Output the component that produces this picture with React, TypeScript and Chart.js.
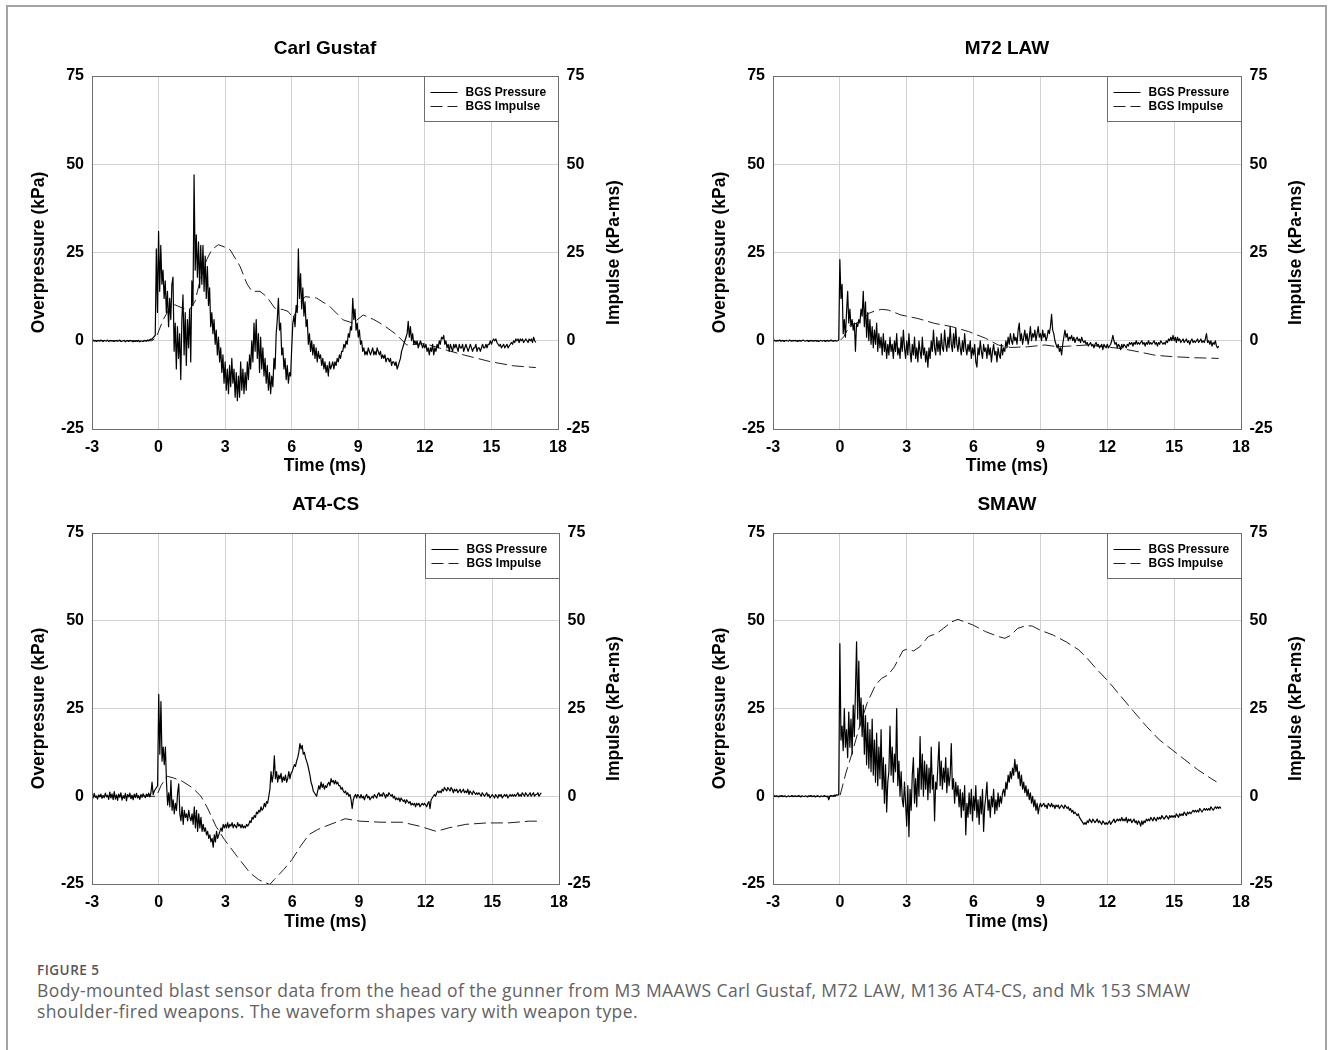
import React, { useEffect, useRef } from "react";
import { Chart, registerables } from "chart.js";

Chart.register(...registerables);

const FONT = '"Liberation Sans", Arial, Helvetica, sans-serif';
Chart.defaults.font.family = FONT;

// ---------- axes / labels ----------
const X_TICKS = [-3, 0, 3, 6, 9, 12, 15, 18];
const Y_TICKS = [-25, 0, 25, 50, 75];
const X_MIN = -3;
const X_MAX = 18;
const Y_MIN = -25;
const Y_MAX = 75;
const SERIES_LABELS = ["BGS Pressure", "BGS Impulse"];
const PANEL_TITLES = ["Carl Gustaf", "M72 LAW", "AT4-CS", "SMAW"];
const X_TITLE = "Time (ms)";
const Y_LEFT_TITLE = "Overpressure (kPa)";
const Y_RIGHT_TITLE = "Impulse (kPa-ms)";

// pressure rows: row r starts at ROW_START + r ms, samples every SAMPLE_STEP ms
const ROW_START = -3;
const SAMPLE_STEP = 0.05;

// ---------- Carl Gustaf ----------
const carlGustafPressure: number[][] = [
  [0, 0.2, -0.1, 0.1, -0.2, 0, 0.1, -0.1, 0.2, 0, -0.2, 0.1, 0, -0.1, 0.2, -0.2, 0, 0.1, -0.1, 0],
  [-0.2, 0, 0.1, -0.1, 0, 0.2, -0.2, -0.1, 0, 0.1, -0.3, 0, 0.1, -0.2, 0, 0.1, -0.1, -0.3, 0, -0.2],
  [0, -0.2, 0.1, -0.3, 0, -0.1, -0.2, 0.1, 0, -0.1, 0.2, 0, 0.3, 0.5, 0.4, 0.8, 1.2, 1.5, 26, 8],
  [31, 14, 27, 16, 20, 12, 17, 8, 14, 4, 12, 6, 16, 18, -3, 5, -8, 4, -5, 2],
  [-11, 6, 13, -4, 8, -7, 6, -2, 9, -6, 17, 10, 47, 20, 30, 18, 28, 15, 27, 16],
  [27, 14, 24, 12, 21, 10, 15, 4, 8, 2, 6, -1, 3, -4, 1, -6, -2, -9, -4, -12],
  [-6, -14, -8, -15, -7, -13, -5, -12, -8, -16, -9, -17, -10, -16, -6, -14, -8, -15, -9, -14],
  [-6, -11, -4, -8, 0, -6, 5, -3, 6, -5, 2, -9, 1, -8, -2, -10, -5, -12, -7, -14],
  [-9, -15, -10, -13, -5, -8, 2, 6, 12, 3, 5, -4, -2, -8, -5, -11, -7, -12, -9, -10],
  [-2, 5, 7, 4, 10, 8, 26, 12, 19, 9, 15, 7, 11, 4, 6, -1, 2, -3, 0, -4],
  [-1, -5, -2, -6, -3, -5, -4, -7, -5, -8, -6, -9, -7, -10, -6, -8, -7, -6, -8, -6],
  [-7, -5, -6, -4, -5, -3, -3, -1, -2, 0, -1, 2, 1, 4, 3, 12, 6, 9, 3, 5],
  [1, 3, -1, 0, -3, -2, -4, -3, -4, -2, -3, -4, -3, -2, -4, -3, -4, -2, -3, -4],
  [-3, -5, -4, -5, -4, -6, -5, -5, -6, -5, -7, -6, -6, -7, -6, -8, -7, -6, -5, -3],
  [-2, -1, 0, 1, 2, 5.5, 1, 4, 0, 2, -1, 0, -1, 0, -2, -1, 0, -1, -2, -1],
  [-2, -1, -3, -2, -4, -2, -3, -1, -4, -2, -3, -1, -2, 0, -1, 1, 0.5, 1.5, -1, 0],
  [-2, -1, -3, -1, -2, -3, -1, -2, -1, -2, -3, -1, -2, -2, -1, -3, -2, -1, -2, -3],
  [-2, -1, -2, -3, -2, -2, -1, -3, -2, -2, -3, -2, -1, -2, -2, -1, -2, -1, -1, 0],
  [-1, 0, 0.5, 0, 0.5, -0.5, -1, -1.5, -1, -2, -1.5, -1, -2, -1.5, -1, -2, -1.5, -1, -0.5, -1],
  [0, -0.5, 0.5, 0, 0.5, -0.5, 0.5, 0, 0.5, -0.5, 0, 0.5, 0, -0.5, 0.5, 0, 0.5, -0.5, 1, 0],
  [-0.5],
];
const carlGustafImpulse: number[][] = [
  [-3, 0], [-0.3, 0], [-0.1, 1], [0.2, 5.9], [0.5, 9.2], [0.73, 10.2], [1.1, 9.2], [1.4, 8.8],
  [1.64, 11.1], [1.86, 16.8], [2.17, 23], [2.4, 25.8], [2.69, 27.2], [3.0, 26.5], [3.22, 25.8],
  [3.67, 21.1], [3.97, 16.3], [4.2, 14], [4.57, 14], [4.87, 12.5], [5.24, 9.2], [5.62, 8.8],
  [5.84, 8.3], [6.07, 6.4], [6.3, 10], [6.6, 12.5], [7.12, 12.1], [7.72, 9.7], [8.32, 5.9],
  [8.77, 5], [9.22, 7.3], [9.7, 6], [10.12, 4.5], [10.73, 1.7], [11.18, -1.2], [12, -0.8],
  [13, -2.7], [13.8, -4.1], [15, -6], [16, -7.1], [17, -7.6],
];

// ---------- M72 LAW ----------
const m72LawPressure: number[][] = [
  [0, 0.2, 0, -0.1, 0.1, 0, 0.2, -0.1, 0, 0.1, -0.2, 0, 0.1, 0, -0.1, 0.2, 0, -0.1, 0.1, 0],
  [0.1, 0, -0.2, 0, 0.1, -0.1, 0, 0.2, 0, -0.1, 0, 0.1, -0.2, 0, 0.1, 0, -0.1, 0, 0.1, -0.1],
  [0, -0.2, 0, 0.1, -0.1, 0, 0.1, -0.2, 0, 0.1, -0.1, 0, 0.2, 0, -0.1, 0, 0.1, -0.1, 0, 0.2],
  [23, 12, 16, 2, 6, 1, 8, 14, 5, 9, 4, 6, 3, 5, -3, 5, 4, 6, 5, 9],
  [7, 14, 4, 11, 1, 8, 0, 6, -1, 4, -2, 3, -1, 5, -3, 2, -2, 1, -4, 2],
  [-3, 0, -5, -1, -4, 1, -3, -1, -5, 0, -3, 2, -4, -2, -5, 1, -3, 3, -2, -5],
  [0, -4, 2, -3, -6, -1, -4, 1, -5, -2, -6, 0, -3, -5, 1, -4, -2, -6, -3, -7.5],
  [-2, -5, 0, -3, 3, -2, -4, 1, -3, 0, -4, 2, -2, -3, 3, -1, -3, 1, -2, 4],
  [-1, -3, 2, -2, 3.5, -1, -3, 1, -2, -4, 0, -3, 2, -2, -4, -1, -3, 0, -5, -2],
  [-4, -1, -6, -7.5, -2, -4, 0, -3, -5, -1, -3, -2, -5, -1, -4, -2, -6, -3, -1, -4],
  [-3, -6, -2, -4, -5, -1, -4, -2, -3, 0, -2, 1, -1, 2, 0, -1, 2, 0, 1, -1],
  [3, 5, 0, 2, -1, 1, 3, 0, 2, -1, 1, 4, 0, 2, 1, 3, 0, 2, 4, 1],
  [2, 0, 3, 1, 2, 0, 1, 3, 2, 4, 7.5, 3, 2, 0, -1, -2, -1, -3, -2, -4],
  [-1, 1, 3, 1, 2, 0, 1, 0.5, 1.5, 0, 1, -0.5, 0.5, 1, 0, 0.5, -0.5, 1, 0, -0.5],
  [0, -1, -0.5, -1.5, -1, -0.5, -1.5, -1, -2, -1, -0.5, -1.5, -1, -2, -1.5, -1, -2.5, -1, -1.5, -2],
  [-1, -2, -1.5, -1, 0, 1.5, 0, -1, -0.5, -2, -1, -1.5, -2.5, -1, -2, -1, -1.5, -2, -1, -1.5],
  [-0.5, -1, -0.5, -1.5, -0.5, -1, 0, -1, -0.5, -1, -0.5, 0, -1, -0.5, -1.5, -0.5, -1, 0, -1, -0.5],
  [-1, -0.5, 0, -1, -0.5, -1.5, -0.5, -1, 0, -0.5, -1, -0.5, -1, 0, -0.5, 0.5, 0, 1, 0, 1.5],
  [0, 1, -0.5, 1, 0, 0.5, -0.5, 0, 0.5, -0.5, 0, 0.5, -0.5, 0, -1, 0, 0.5, -0.5, 0, -0.5],
  [0, 0.5, -0.5, 0, 0.5, -0.5, 0, -0.5, 0.5, 2, -0.5, 0, -1, 0, -1.5, -0.5, -1, 0, -1.5, -2],
  [-1.5],
];
const m72LawImpulse: number[][] = [
  [-3, 0], [0, 0], [0.17, 1.1], [0.46, 4.5], [0.74, 4.9], [1.03, 6.3], [1.31, 7.8], [1.6, 8.5],
  [1.88, 8.9], [2.17, 8.7], [2.74, 7.3], [3.5, 6.3], [4.26, 4.9], [5.02, 4.0], [5.78, 2.6],
  [6.54, 0.7], [7.1, -1.2], [7.68, -1.9], [8.44, -1.7], [9.2, -1.2], [9.77, -1.7], [10.34, -1.5],
  [11.1, -1.2], [11.86, -1.7], [12.62, -2.2], [13.38, -3.1], [14.14, -4.1], [14.9, -4.5],
  [15.86, -4.8], [17, -5],
];

// ---------- AT4-CS ----------
const at4csPressure: number[][] = [
  [0.5, -0.5, 0.8, -0.3, 0, -0.8, 0.4, -0.2, 0.6, -0.6, 0.2, -0.4, 0.9, -0.2, 0.3, -0.9, 1.2, -0.5, 0.7, -1],
  [1.3, -0.8, 0.4, -1.2, 0.6, -0.3, 1, -1.1, 0.2, -0.6, 0.8, -1.3, 0.5, -0.2, 0.9, -0.7, 0.3, -1, 0.6, -0.4],
  [0.8, -0.5, 0.2, -0.9, 0.5, -0.3, 0.7, 0.1, -0.4, 0.6, 0, 0.9, -0.2, 1, 4, 0.5, 1.5, 2, 2.5, 3],
  [29, 12, 27, 10, 14, 9, 14, 4, -2.5, 1, -3, 4.5, -4, -1, -5, -2, -4, 1, 3.5, -5],
  [-7, -3, -8, -4, -6, -5, -7, -4, -6, -7, -5, -8, -3, -9, -4, -10, -5, -9, -6, -10],
  [-8, -10, -9, -11, -10, -12, -11, -13, -12, -14.5, -11, -13, -10, -12, -11, -10, -9, -10, -8, -9],
  [-8, -9, -7.5, -9, -8, -8.5, -7.5, -9, -8, -8.5, -9, -7.5, -8.5, -8, -9, -8, -9, -8.5, -9, -8],
  [-8.5, -8, -7, -7.5, -6, -6.5, -5.5, -6, -4.5, -5, -4, -4.5, -3, -4, -3.5, -2, -3, -1.5, -2, 0],
  [2, 7, 4, 6, 11.5, 5, 7, 4, 6, 5, 6.5, 4, 5.5, 4.5, 6, 4, 5, 7, 5, 6.5],
  [7, 8, 9, 8.5, 10, 11, 12.5, 15, 13.5, 14.5, 12, 12.5, 11, 10, 9, 7.5, 6, 4, 3, 1.5],
  [1, 0.5, 0, 1.5, 3, 2, 4, 2.5, 3.5, 2, 3, 2.5, 3.5, 4, 3, 5, 4, 4.5, 3.5, 4.5],
  [3.5, 4, 3, 3, 2, 2.5, 1.5, 1, 1.5, 0.5, 1, 0, 0.5, -1, -3.5, -1, 0, 0.5, -0.5, 0.5],
  [0, -0.5, 0.5, -0.5, 0, -1, 0, 0.5, -0.5, 0, -1, -0.5, 0, -0.5, 0.5, 0, -0.5, 0.5, 1, 0],
  [0.5, 0, 1, 0.5, -0.5, 0.5, 0, 1, 0.5, 0, 0.5, -0.5, 0, -1, -0.5, -1, -0.5, -1.5, -0.5, -1],
  [-1.5, -1, -2, -1, -1.5, -2, -1.5, -2.5, -2, -2.5, -2, -3, -2, -2.5, -2, -3, -2.5, -2, -2.5, -2],
  [-2.5, -3, -2, -1.5, -3.5, -1, -0.5, 0, 0.5, 0, 1, 1.5, 1, 1.5, 1, 2, 1.5, 2.5, 2, 1.5],
  [2.5, 2, 1.5, 2.5, 2, 1, 2, 1.5, 2, 1, 1.5, 2, 1, 1.5, 2, 1, 1.5, 1, 2, 0.5],
  [1.5, 1, 0.5, 1.5, 1, 0.5, 1, 0.5, 1, 0.5, 0, 1, 0.5, 0, 0.5, 1, 0, 0.5, -0.5, 0],
  [0.5, 0, -0.5, 0.5, 0, -0.5, 0.5, 0, 0.5, -0.5, 0, 0.5, 0, 0.5, -0.5, 0, 0.5, 0, 0.5, 0],
  [0.5, 0, 0.5, 1, 0, 0.5, 0, 1, 0.5, 0, 1, 0.5, 0, 0.5, 1, 0, 0.5, 1, 0, 0.5],
  [0.5, 1, 0, 0.5, 1],
];
const at4csImpulse: number[][] = [
  [-3, 0], [-0.1, 0], [0.1, 3], [0.38, 5.7], [0.67, 5.2], [1.05, 4.3], [1.52, 2.4], [1.9, 0],
  [2.19, -3.3], [2.57, -8.5], [2.95, -12.3], [3.52, -17.1], [4.1, -21.8], [4.48, -23.7],
  [4.76, -24.6], [5.0, -25.1], [5.2, -23.7], [5.62, -20.9], [6.0, -18], [6.38, -14.2],
  [6.76, -10.9], [7.14, -9.5], [7.52, -8.5], [8.1, -7.1], [8.38, -6.4], [9.05, -7.1], [10, -7.4],
  [10.95, -7.4], [11.71, -8.5], [12.48, -10], [13.05, -9], [13.81, -8], [14.76, -7.6],
  [15.7, -7.6], [16.67, -7.1], [17.24, -7.1],
];

// ---------- SMAW ----------
const smawPressure: number[][] = [
  [0, 0.2, -0.1, 0.1, 0, -0.2, 0.1, 0, 0.2, -0.1, 0, 0.1, -0.2, 0, 0.1, -0.1, 0, 0.2, -0.1, 0],
  [0.1, -0.1, 0, 0.2, 0, -0.2, 0.1, 0, -0.1, 0.1, 0, -0.2, 0.1, 0, 0.2, -0.1, 0, 0.1, -0.2, 0],
  [0.1, 0, -0.2, 0.1, 0, -0.1, 0.2, 0, -0.1, 0, -1, 0, 0.2, 0.1, 0, 0.3, 0.2, 0.4, 0.3, 0.5],
  [43.5, 16, 20, 13, 25, 14, 19, 11, 24, 14, 22, 12, 26, 17, 30, 44, 22, 38.5, 20, 28],
  [17, 26, 12, 23, 9, 21, 8, 19, 7, 22, 6, 16, 4, 18, 3, 14, 5, 19, 2, 11],
  [-2, 9, -4.5, 4, 7, 20, 6, 14, 4, 12, 7, 25, 3, 10, 0, 7, -1, -3, 4, -2],
  [-8.5, 3, -11.5, 2, -4, 6, 11, -2, 5, -3, 8, 0, 17, 2, 12, 0, 10, 2, 9, -1],
  [8, 1, 14, 2, 6, -7, 4, 2, 9, 15.5, 3, 10, 2, 8, 4, 11, 1, 8, 3, 6],
  [15, 2, 5, -2, 4, 0, 3, -3, 2, -6, 1, -4, 3, -11, -2, -6, 1, -5, 2, -7],
  [0, -4, 3, -6, -1, -8, 0, -5, 2, -10, -3, 0, 4, -4, -1, -6, 0, -3, 2, -5],
  [-1, -4, 1, -3, 0, -2, 1, 2, 0, 4, 2, 6, 4, 7, 5, 8, 6, 10.5, 7, 9],
  [5, 7, 3, 6, 2, 4, 1, 3, 0, 2, -1, 1, -2, 0, -3, -1, -4, -2, -5, -3],
  [-2, -3, -2.5, -2, -3, -2.5, -3.5, -2, -2.5, -3, -2, -3, -2.5, -3.5, -2.5, -3, -2.5, -3.5, -3, -2.5],
  [-3, -3.5, -2.5, -3, -3.5, -3, -4, -3.5, -4.5, -4, -5, -4.5, -5, -5.5, -5, -6, -6.5, -7, -7.5, -8],
  [-7.5, -8, -7, -7.5, -6.5, -7, -7.5, -6.5, -7, -7.5, -7, -6.5, -7.5, -7, -7.5, -8, -7, -7.5, -8, -7.5],
  [-8, -7.5, -7, -8, -7.5, -7, -6.5, -7.5, -7, -6.5, -7, -6.5, -7, -6, -7, -6.5, -7, -6, -7.5, -6.5],
  [-7, -6.5, -7.5, -7, -6.5, -7.5, -7, -8, -7, -7.5, -8.5, -7, -8, -7, -7.5, -6.5, -7, -6.5, -7, -6],
  [-6.5, -7, -6, -6.5, -7, -6, -6.5, -6, -6.5, -5.5, -6, -6.5, -6, -5.5, -6, -6.5, -5.5, -6, -5.5, -6],
  [-5.5, -6, -5, -5.5, -6, -5, -5.5, -5, -5.5, -4.5, -5, -5.5, -4.5, -5, -4.5, -5, -4.5, -4, -4.5, -4],
  [-4.5, -4, -4.5, -3.5, -4, -4.5, -4, -3.5, -4, -3.5, -4, -3.5, -4, -3, -3.5, -4, -3.5, -3, -3.5, -3],
  [-3.5, -3, -3.5],
];
const smawImpulse: number[][] = [
  [-3, 0], [0, 0], [0.27, 6.6], [0.55, 12.3], [0.84, 18.9], [1.22, 26.5], [1.6, 31.7], [1.88, 33.6],
  [2.17, 34.6], [2.45, 36.9], [2.83, 41.5], [3.02, 41.9], [3.31, 41.4], [3.59, 42.6], [3.97, 45.5],
  [4.35, 46.4], [4.64, 47.8], [5.02, 49.7], [5.3, 50.4], [5.59, 49.7], [5.97, 48.8], [6.54, 46.9],
  [7.11, 45.5], [7.4, 45], [7.68, 45.9], [7.97, 47.8], [8.35, 48.6], [8.63, 48.5], [9.0, 47.3],
  [9.58, 45.9], [10.15, 44], [10.72, 41.7], [11.1, 39.3], [11.48, 36.5], [12.05, 32.7],
  [12.62, 28.4], [13.19, 24.1], [13.76, 19.9], [14.33, 16.1], [14.9, 13.3], [15.48, 10.4],
  [16.05, 7.6], [16.62, 5.2], [16.9, 4.1],
];

// ---------- helpers ----------
function rowsToPoints(rows: number[][]) {
  const pts: { x: number; y: number }[] = [];
  rows.forEach((row, r) => {
    row.forEach((v, j) => {
      pts.push({ x: Math.round((ROW_START + r + j * SAMPLE_STEP) * 100) / 100, y: v });
    });
  });
  return pts;
}
function pairsToPoints(pairs: number[][]) {
  return pairs.map(([x, y]) => ({ x, y }));
}

function alignPx(p: number) {
  return Math.round(p - 0.5) + 0.5;
}

const framePlugin = {
  id: "frame",
  afterDatasetsDraw(chart: any) {
    const { ctx, chartArea: a } = chart;
    const l = alignPx(a.left), r = alignPx(a.right), t = alignPx(a.top), b = alignPx(a.bottom);
    ctx.save();
    ctx.strokeStyle = "#6e6e6e";
    ctx.lineWidth = 1;
    ctx.strokeRect(l, t, r - l, b - t);
    ctx.restore();
  },
};

const rightTitlePlugin = {
  id: "rightTitle",
  afterDraw(chart: any, _args: any, o: any) {
    const { ctx, chartArea: a } = chart;
    ctx.save();
    ctx.translate(o.x, (a.top + a.bottom) / 2);
    ctx.rotate(-Math.PI / 2);
    ctx.font = `bold ${o.size}px ${FONT}`;
    ctx.fillStyle = "#000";
    ctx.textAlign = "center";
    ctx.textBaseline = "middle";
    ctx.fillText(o.text, 0, 0);
    ctx.restore();
  },
};

const boxLegendPlugin = {
  id: "boxLegend",
  afterDraw(chart: any, _args: any, o: any) {
    const { ctx, chartArea: a } = chart;
    const r = alignPx(a.right);
    const t = alignPx(a.top);
    const x0 = r - o.width;
    ctx.save();
    ctx.fillStyle = "#fff";
    ctx.fillRect(x0, t, o.width, o.height);
    ctx.strokeStyle = "#6e6e6e";
    ctx.lineWidth = 1;
    ctx.strokeRect(x0, t, o.width, o.height);
    chart.data.datasets.forEach((ds: any, i: number) => {
      const y = Math.round(a.top + o.rows[i]) + 0.5;
      ctx.beginPath();
      ctx.setLineDash(ds.borderDash || []);
      ctx.strokeStyle = ds.borderColor;
      ctx.lineWidth = 1;
      ctx.moveTo(x0 + o.lineStart, y);
      ctx.lineTo(x0 + o.lineEnd, y);
      ctx.stroke();
      ctx.setLineDash([]);
      ctx.fillStyle = "#000";
      ctx.font = `bold ${o.size}px ${FONT}`;
      ctx.textAlign = "left";
      ctx.textBaseline = "middle";
      ctx.fillText(ds.label, x0 + o.textX, y);
    });
    ctx.restore();
  },
};

type Geo = {
  bx: number; by: number; bw: number; bh: number;
  l: number; t: number; r: number; b: number;
  titleY: number; leftTitleX: number; rightTitleX: number; xTitleY: number;
};

const TICK_SIZE = 16;
const TICK_FONT = { family: FONT, size: TICK_SIZE, weight: "bold" as const, lineHeight: 1.2 };
const AXIS_TITLE_SIZE = 17.5;
const AXIS_TITLE_FONT = { family: FONT, size: AXIS_TITLE_SIZE, weight: "bold" as const, lineHeight: 1.2 };
const TITLE_SIZE = 19;

function Panel({ title, pressure, impulse, g }: { title: string; pressure: number[][]; impulse: number[][]; g: Geo }) {
  const ref = useRef<HTMLCanvasElement | null>(null);
  useEffect(() => {
    if (!ref.current) return;
    const L = g.l - g.bx;
    const R = g.r - g.bx;
    const T = g.t - g.by;
    const B = g.b - g.by;
    const titleHalf = (TITLE_SIZE * 1.2) / 2;
    const axisHalf = (AXIS_TITLE_SIZE * 1.2) / 2;
    const titleTop = g.titleY - g.by - titleHalf;
    const titleBottom = T - titleTop - TITLE_SIZE * 1.2;
    const xTickPad = 18.5 - (TICK_SIZE * 1.2) / 2;
    const chart = new Chart(ref.current, {
      type: "line",
      data: {
        datasets: [
          {
            label: SERIES_LABELS[0],
            data: rowsToPoints(pressure),
            borderColor: "#000000",
            borderWidth: 1.2,
            pointRadius: 0,
            tension: 0,
            borderJoinStyle: "round",
            fill: false,
            yAxisID: "y",
          },
          {
            label: SERIES_LABELS[1],
            data: pairsToPoints(impulse),
            borderColor: "#1e1e1e",
            borderWidth: 1,
            borderDash: [12, 5],
            pointRadius: 0,
            tension: 0,
            fill: false,
            yAxisID: "y1",
          },
        ],
      },
      options: {
        responsive: false,
        animation: false,
        devicePixelRatio: 1,
        events: [],
        layout: { padding: 0 },
        plugins: {
          legend: { display: false },
          tooltip: { enabled: false },
          title: {
            display: true,
            text: title,
            color: "#000",
            font: { family: FONT, size: TITLE_SIZE, weight: "bold", lineHeight: 1.2 },
            padding: { top: titleTop, bottom: titleBottom },
            fullSize: false,
          },
          rightTitle: { text: Y_RIGHT_TITLE, x: g.rightTitleX - g.bx, size: AXIS_TITLE_SIZE },
          boxLegend: { width: 134, height: 45, rows: [16, 29.5], lineStart: 6, lineEnd: 33, textX: 41, size: 12 },
        } as any,
        scales: {
          x: {
            type: "linear",
            min: X_MIN,
            max: X_MAX,
            afterBuildTicks: (s: any) => {
              s.ticks = X_TICKS.map((v) => ({ value: v }));
            },
            ticks: { color: "#000", font: TICK_FONT, padding: xTickPad, maxRotation: 0, autoSkip: false, callback: (v: any) => String(v) },
            grid: { color: "#d2d2d2", lineWidth: 1, drawTicks: false },
            border: { display: false },
            title: {
              display: true,
              text: X_TITLE,
              color: "#000",
              font: AXIS_TITLE_FONT,
              padding: { top: 0, bottom: g.by + g.bh - g.xTitleY - axisHalf },
            },
            afterFit: (s: any) => {
              s.height = g.bh - B;
            },
          },
          y: {
            type: "linear",
            position: "left",
            min: Y_MIN,
            max: Y_MAX,
            afterBuildTicks: (s: any) => {
              s.ticks = Y_TICKS.map((v) => ({ value: v }));
            },
            ticks: { color: "#000", font: TICK_FONT, padding: 8, callback: (v: any) => String(v) },
            grid: { color: "#d2d2d2", lineWidth: 1, drawTicks: false },
            border: { display: false },
            title: {
              display: true,
              text: Y_LEFT_TITLE,
              color: "#000",
              font: AXIS_TITLE_FONT,
              padding: { top: g.leftTitleX - g.bx - axisHalf, bottom: 0 },
            },
            afterFit: (s: any) => {
              s.width = L;
            },
          },
          y1: {
            type: "linear",
            position: "right",
            min: Y_MIN,
            max: Y_MAX,
            afterBuildTicks: (s: any) => {
              s.ticks = Y_TICKS.map((v) => ({ value: v }));
            },
            ticks: { color: "#000", font: TICK_FONT, padding: 8.5, callback: (v: any) => String(v) },
            grid: { display: false, drawTicks: false },
            border: { display: false },
            afterFit: (s: any) => {
              s.width = g.bw - R;
            },
          },
        },
      } as any,
      plugins: [framePlugin, rightTitlePlugin, boxLegendPlugin],
    } as any);
    return () => chart.destroy();
  }, []);
  return (
    <canvas
      ref={ref}
      width={g.bw}
      height={g.bh}
      style={{ position: "absolute", left: g.bx, top: g.by, width: g.bw, height: g.bh }}
    />
  );
}

const GEO: Geo[] = [
  { bx: 0, by: 0, bw: 640, bh: 480, l: 92, t: 76, r: 558, b: 429, titleY: 48.3, leftTitleX: 39.5, rightTitleX: 614, xTitleY: 466 },
  { bx: 664, by: 0, bw: 664, bh: 480, l: 773, t: 76, r: 1241, b: 429, titleY: 48.3, leftTitleX: 720, rightTitleX: 1296, xTitleY: 466 },
  { bx: 0, by: 456, bw: 640, bh: 480, l: 92, t: 533, r: 559, b: 884, titleY: 505, leftTitleX: 39.2, rightTitleX: 613.7, xTitleY: 921.7 },
  { bx: 664, by: 456, bw: 664, bh: 480, l: 773, t: 533, r: 1241, b: 884, titleY: 505, leftTitleX: 720, rightTitleX: 1296, xTitleY: 921.7 },
];

const PANEL_DATA = [
  { pressure: carlGustafPressure, impulse: carlGustafImpulse },
  { pressure: m72LawPressure, impulse: m72LawImpulse },
  { pressure: at4csPressure, impulse: at4csImpulse },
  { pressure: smawPressure, impulse: smawImpulse },
];

export default function App() {
  return (
    <div
      style={{
        position: "absolute",
        left: 0,
        top: 0,
        width: 1328,
        height: 1050,
        overflow: "hidden",
        background: "#fff",
      }}
    >
      <div
        style={{
          position: "absolute",
          left: 6,
          top: 5,
          width: 1321,
          height: 1200,
          boxSizing: "border-box",
          border: "2px solid #a3a3a3",
        }}
      />
      {PANEL_DATA.map((p, i) => (
        <Panel key={i} title={PANEL_TITLES[i]} pressure={p.pressure} impulse={p.impulse} g={GEO[i]} />
      ))}
      <div
        style={{
          position: "absolute",
          left: 37,
          top: 961,
          fontFamily: '"Open Sans", "Noto Sans", sans-serif',
          fontWeight: 600,
          fontSize: 13.5,
          letterSpacing: 0.5,
          lineHeight: "18px",
          color: "#555",
          whiteSpace: "nowrap",
        }}
      >
        FIGURE 5
      </div>
      <div
        style={{
          position: "absolute",
          left: 37,
          top: 979.5,
          fontFamily: '"Open Sans", "Noto Sans", sans-serif',
          fontSize: 17.5,
          letterSpacing: 0.4,
          lineHeight: "21.5px",
          color: "#626262",
          whiteSpace: "nowrap",
        }}
      >
        Body-mounted blast sensor data from the head of the gunner from M3 MAAWS Carl Gustaf, M72 LAW, M136 AT4-CS, and Mk 153 SMAW
        <br />
        shoulder-fired weapons. The waveform shapes vary with weapon type.
      </div>
    </div>
  );
}
